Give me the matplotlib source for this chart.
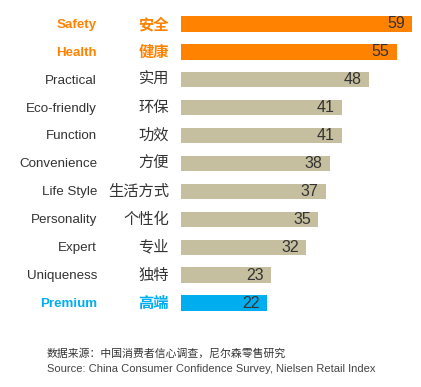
import matplotlib
matplotlib.use("Agg")
import matplotlib.pyplot as plt
from matplotlib.transforms import blended_transform_factory

labels_en = ["Safety", "Health", "Practical", "Eco-friendly", "Function", "Convenience",
             "Life Style", "Personality", "Expert", "Uniqueness", "Premium"]
labels_cn = ["安全", "健康", "实用", "环保", "功效", "方便", "生活方式", "个性化", "专业", "独特", "高端"]
values = [59, 55, 48, 41, 41, 38, 37, 35, 32, 23, 22]
highlight = ["orange", "orange", None, None, None, None, None, None, None, None, "blue"]

ORANGE = "#FF8200"
TAN = "#C5BE9F"
BLUE = "#00AEEF"
TEXT = "#333333"

W, H = 421, 387
fig = plt.figure(figsize=(W / 100, H / 100), dpi=100)
ax = fig.add_axes([181 / W, (H - 317) / H, (W - 181) / W, 307 / H])

fam = ["Liberation Sans", "Noto Sans CJK SC", "DejaVu Sans"]
ys = list(range(len(values)))[::-1]
tr = blended_transform_factory(fig.transFigure, ax.transData)
for y, v, h, en, cn in zip(ys, values, highlight, labels_en, labels_cn):
    if h == "orange":
        c, tc, w = ORANGE, ORANGE, "bold"
    elif h == "blue":
        c, tc, w = BLUE, BLUE, "bold"
    else:
        c, tc, w = TAN, TEXT, "normal"
    ax.barh(y, v, height=0.55, color=c, edgecolor="none")
    ax.text(v - 1.9, y, str(v), ha="right", va="center", fontsize=11.5, color=TEXT,
            family=fam)
    ax.text(97 / W, y - 0.03, en, transform=tr, ha="right", va="center", fontsize=9.6,
            color=tc, fontweight=w, family=fam)
    ax.text(169 / W, y, cn, transform=tr, ha="right", va="center", fontsize=11,
            color=tc, fontweight="bold" if h else "medium",
            family=["Noto Sans CJK SC", "DejaVu Sans"])

ax.set_xlim(0, 240 / 3.92)
ax.set_ylim(-0.5, len(values) - 0.5)
ax.axis("off")

fig.text(47 / W, 1 - 353 / H, "数据来源：中国消费者信心调查，尼尔森零售研究", ha="left", va="center",
         fontsize=7.8, color="#333333", family=["Noto Sans CJK SC", "DejaVu Sans"])
fig.text(47 / W, 1 - 369 / H, "Source: China Consumer Confidence Survey, Nielsen Retail Index",
         ha="left", va="center", fontsize=8, color="#444444", family=fam)

fig.savefig("out.png", dpi=100)
